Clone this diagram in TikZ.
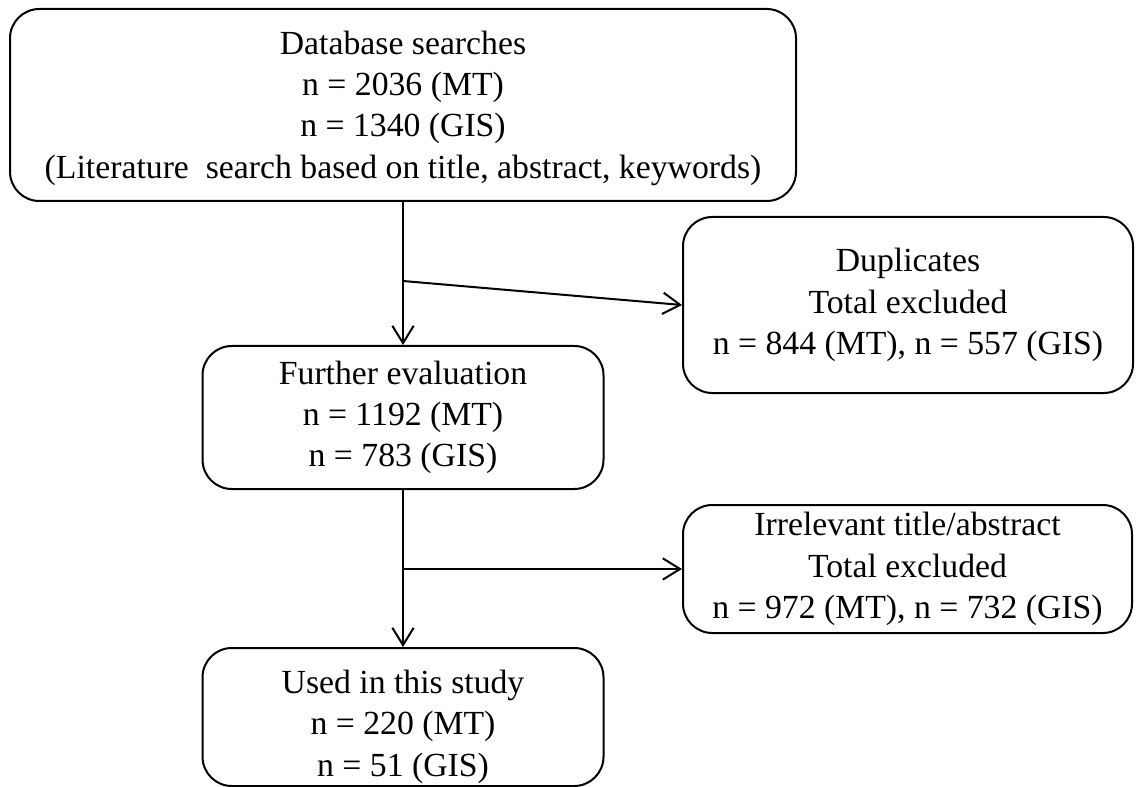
\documentclass[tikz,border=0pt]{standalone}
\usepackage{fontspec}
\setmainfont{Liberation Serif}
\usepackage{tikz}
\usetikzlibrary{arrows.meta}

\begin{document}
\begin{tikzpicture}[x=0.75pt, y=-0.75pt, line width=1.5pt,
	every node/.style={font=\fontsize{25.3}{31}\selectfont, align=center, inner sep=0pt},
	box/.style={draw, rounded corners=22pt},
	>={Straight Barb[length=13pt, width=16pt, line width=1.5pt]}]
	\useasboundingbox (0,0) rectangle (1137,787);
	\node[box, minimum width=589.5pt, minimum height=144pt] (db) at (403,105)
		{\rule{0pt}{22pt}Database searches\\ n = 2036 (MT)\\ n = 1340 (GIS)\\ (Literature\ \ search based on title, abstract, keywords)};
	\node[box, minimum width=337.5pt, minimum height=132pt] (dup) at (908,305)
		{Duplicates\\ Total excluded\\ n = 844 (MT), n = 557 (GIS)};
	\node[box, minimum width=300.75pt, minimum height=107.25pt] (fur) at (403,417.5)
		{Further evaluation\\ n = 1192 (MT)\\ n = 783 (GIS)};
	\node[box, minimum width=336.75pt, minimum height=96pt] (irr) at (907.5,569)
		{Irrelevant title/abstract\\ Total excluded\\ n = 972 (MT), n = 732 (GIS)};
	\node[box, minimum width=300.75pt, minimum height=103.5pt] (used) at (403,717)
		{\rule{0pt}{32pt}Used in this study\\ n = 220 (MT)\\ n = 51 (GIS)};
	\coordinate (b1) at (403,281);
	\coordinate (b2) at (403,569);
	\draw[->] (db) -- (fur);
	\draw[->] (b1) -- (dup.west);
	\draw[->] (fur) -- (used);
	\draw[->] (b2) -- (irr.west);
\end{tikzpicture}
\end{document}
